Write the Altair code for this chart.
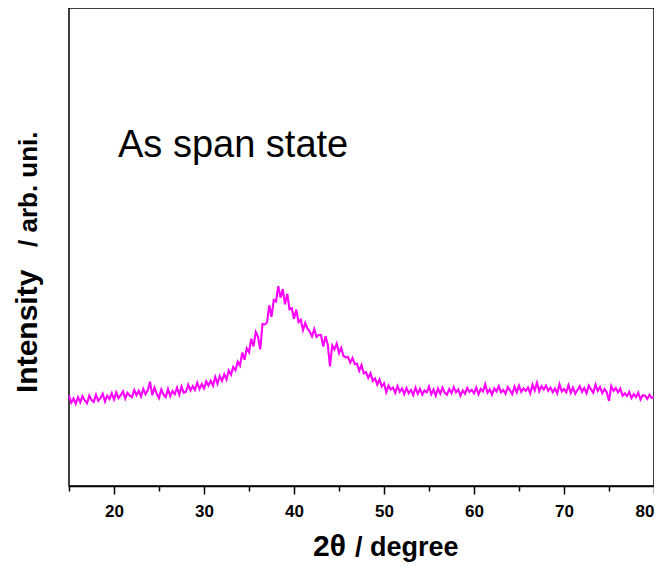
import altair as alt
import pandas as pd

# 2θ grid: 15° to 80° in 0.25° steps; intensity in arbitrary units
theta_start = 15.0
theta_step = 0.25
intensity = [
    18.9, 17.4, 18.3, 17.2,   # 15
    18.6, 17.5, 18.8, 17.9,   # 16
    17.3, 18.9, 18.0, 17.6,   # 17
    19.1, 17.8, 18.4, 19.3,   # 18
    17.7, 18.9, 18.2, 19.4,   # 19
    18.1, 19.6, 18.4, 19.0,   # 20
    19.8, 18.3, 19.5, 18.9,   # 21
    18.6, 20.1, 19.0, 19.9,   # 22
    18.7, 20.3, 19.2, 20.0,   # 23
    21.8, 19.0, 20.6, 19.3,   # 24
    18.4, 20.2, 19.1, 18.6,   # 25
    20.3, 18.8, 19.9, 19.2,   # 26
    20.6, 19.1, 20.8, 19.5,   # 27
    19.7, 21.2, 20.0, 20.9,   # 28
    20.1, 21.6, 20.3, 21.3,   # 29
    20.4, 21.9, 21.0, 22.0,   # 30
    21.0, 22.8, 21.4, 23.0,   # 31
    22.0, 23.4, 22.3, 24.2,   # 32
    23.3, 24.9, 24.2, 26.0,   # 33
    25.2, 27.9, 26.4, 28.8,   # 34
    28.0, 30.8, 29.2, 32.2,   # 35
    31.2, 28.6, 33.9, 33.8,   # 36
    34.2, 37.8, 35.4, 38.9,   # 37
    38.6, 41.8, 39.4, 41.2,   # 38
    38.0, 40.2, 37.0, 37.2,   # 39
    35.0, 36.9, 34.3, 34.8,   # 40
    32.6, 34.1, 32.9, 32.3,   # 41
    31.3, 32.8, 31.2, 31.6,   # 42
    31.6, 29.2, 31.3, 29.6,   # 43
    25.0, 29.4, 28.6, 29.8,   # 44
    27.8, 28.9, 27.2, 26.9,   # 45
    27.0, 25.8, 26.8, 25.5,   # 46
    25.6, 24.1, 25.3, 23.6,   # 47
    23.8, 22.6, 23.6, 22.0,   # 48
    22.5, 21.2, 22.3, 20.8,   # 49
    21.5, 19.6, 21.0, 20.2,   # 50
    20.6, 19.5, 20.9, 19.7,   # 51
    20.4, 19.2, 20.5, 19.4,   # 52
    20.1, 19.0, 20.6, 19.3,   # 53
    20.3, 19.1, 20.0, 19.6,   # 54
    20.8, 19.2, 20.2, 18.9,   # 55
    20.4, 19.3, 20.6, 19.5,   # 56
    19.1, 20.3, 19.4, 20.7,   # 57
    19.6, 20.2, 18.9, 20.0,   # 58
    19.3, 20.5, 19.7, 20.1,   # 59
    19.4, 20.6, 19.2, 20.3,   # 60
    19.8, 21.3, 19.5, 20.2,   # 61
    19.1, 20.4, 19.8, 20.9,   # 62
    19.6, 20.1, 19.3, 20.7,   # 63
    20.0, 19.2, 20.8, 19.6,   # 64
    21.0, 19.7, 20.4, 19.9,   # 65
    20.6, 19.4, 21.2, 20.0,   # 66
    21.6, 19.8, 20.9, 20.2,   # 67
    21.0, 19.9, 20.6, 19.6,   # 68
    20.4, 19.4, 21.3, 19.8,   # 69
    20.3, 19.6, 21.1, 19.5,   # 70
    20.6, 19.3, 20.1, 20.9,   # 71
    19.7, 20.5, 19.4, 21.0,   # 72
    20.2, 19.5, 21.2, 19.9,   # 73
    20.7, 19.4, 20.3, 19.6,   # 74
    17.8, 20.9, 19.9, 20.5,   # 75
    19.6, 20.4, 18.9, 19.4,   # 76
    18.8, 19.7, 18.4, 19.2,   # 77
    18.6, 19.5, 18.1, 19.0,   # 78
    18.9, 18.2, 19.1, 18.4,   # 79
    18.6,                     # 80
]
two_theta = [theta_start + i * theta_step for i in range(len(intensity))]
x_ticks = [15, 20, 25, 30, 35, 40, 45, 50, 55, 60, 65, 70, 75, 80]

df = pd.DataFrame({"two_theta": two_theta, "intensity": intensity})

FONT = "Liberation Sans"

line = alt.Chart(df).mark_line(color="#FF00FF", strokeWidth=2.1).encode(
    x=alt.X(
        "two_theta:Q",
        scale=alt.Scale(domain=[15, 80], nice=False, zero=False),
        axis=alt.Axis(
            values=x_ticks,
            labelExpr="datum.value % 10 === 0 ? datum.label : ''",
            tickSize={"condition": {"test": "datum.value % 10 === 0", "value": 8}, "value": 5},
            tickColor="black",
            tickWidth=1.5,
            domainColor="black",
            domainWidth=1.5,
            labelFont=FONT,
            labelFontSize=17,
            labelFontWeight="bold",
            labelColor="black",
            labelPadding=9,
            labelFlush=True,
            labelOverlap=False,
            grid=False,
            title=None,
        ),
    ),
    y=alt.Y(
        "intensity:Q",
        scale=alt.Scale(domain=[0, 100]),
        axis=alt.Axis(labels=False, ticks=False, grid=False, domain=False, title=None),
    ),
)


def label(text, x, y, size, weight="bold", angle=0):
    return alt.Chart(pd.DataFrame({"t": [text]})).mark_text(
        font=FONT, fontSize=size, fontWeight=weight, color="black",
        align="left", baseline="alphabetic", angle=angle,
    ).encode(x=alt.value(x), y=alt.value(y), text="t:N")


annot = label("As span state", 49, 149, 38, weight="normal")
ytitle1 = label("Intensity", -32, 385, 30, angle=270)
ytitle2 = label("/  arb. uni.", -32, 239, 26, angle=270)
xtitle1 = label("2θ", 244, 548, 30)
xtitle2 = label("/ degree", 286, 548, 27)

chart = alt.layer(line, annot, ytitle1, ytitle2, xtitle1, xtitle2).properties(
    width=585,
    height=478,
    autosize=alt.AutoSizeParams(type="none"),
    padding={"left": 61, "top": 0, "right": 0, "bottom": 76},
    background="white",
).configure_view(stroke="black", strokeWidth=1.5)

chart.save("out.html", embed_options={"renderer": "svg", "actions": False})
